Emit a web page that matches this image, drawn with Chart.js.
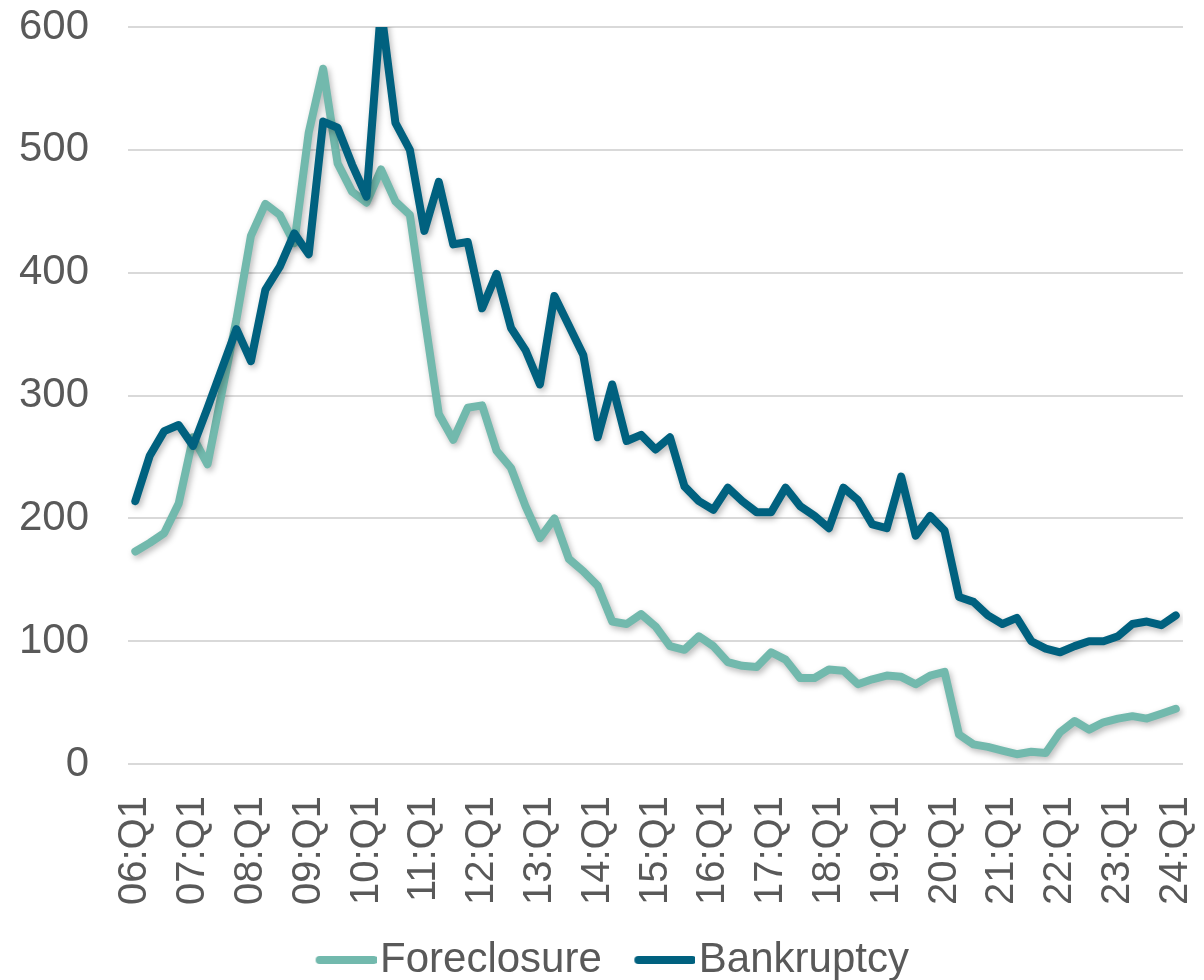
<!DOCTYPE html>
<html>
<head>
<meta charset="utf-8">
<script src="https://cdn.jsdelivr.net/npm/chart.js@4/dist/chart.umd.min.js"></script>
<style>
  html, body { margin: 0; padding: 0; background: #ffffff; }
  #wrap { width: 1204px; height: 980px; position: relative; }
</style>
</head>
<body>
<div id="wrap"><canvas id="chart"></canvas></div>
<script>
// tick labels shown on the x axis (every 4th quarter)
const tickLabels = ['06:Q1', '07:Q1', '08:Q1', '09:Q1', '10:Q1', '11:Q1', '12:Q1', '13:Q1', '14:Q1', '15:Q1',
    '16:Q1', '17:Q1', '18:Q1', '19:Q1', '20:Q1', '21:Q1', '22:Q1', '23:Q1', '24:Q1'];

// quarterly categories 06:Q1 .. 24:Q1
const quarters = [];
tickLabels.forEach((t, k) => {
    const yy = t.slice(0, 2);
    const last = k === tickLabels.length - 1 ? 1 : 4;
    for (let q = 1; q <= last; q++) quarters.push(yy + ':Q' + q);
});

const foreclosure = [173, 180, 188, 212, 266, 244, 303, 362, 430, 456, 447, 424, 514, 566, 489, 466, 457, 484, 458, 447,
    365, 285, 264, 290, 292, 255, 241, 210, 184, 200, 167, 157, 145, 116, 114, 122, 112, 96, 93, 104,
    96, 83, 80, 79, 91, 85, 70, 70, 77, 76, 65, 69, 72, 71, 65, 72, 75, 24, 16, 14,
    11, 8, 10, 9, 26, 35, 28, 34, 37, 39, 37, 41, 45];

const bankruptcy = [214, 251, 271, 276, 259, 290, 322, 354, 328, 386, 405, 432, 415, 523, 518, 488, 462, 615, 522, 500,
    434, 474, 423, 425, 371, 399, 355, 337, 309, 381, 357, 333, 266, 309, 263, 268, 256, 266, 226, 214,
    207, 225, 214, 205, 205, 225, 210, 202, 192, 225, 215, 195, 192, 234, 186, 202, 190, 136, 132, 121,
    114, 119, 100, 94, 91, 96, 100, 100, 104, 114, 116, 113, 121];

const tealColor = '#72b9ad';
const darkColor = '#00617f';
const textColor = '#595959';

// legend line sample drawn into a small canvas so it sits close to the text
function legendLine(color) {
    const c = document.createElement('canvas');
    c.width = 101;
    c.height = 12;
    const g = c.getContext('2d');
    g.strokeStyle = color;
    g.lineWidth = 8;
    g.lineCap = 'round';
    g.beginPath();
    g.moveTo(44, 6);
    g.lineTo(98, 6);
    g.stroke();
    return c;
}

// soft drop shadow under the lines
const lineShadow = {
    id: 'lineShadow',
    beforeDatasetDraw(chart) {
        const ctx = chart.ctx;
        ctx.save();
        ctx.shadowColor = 'rgba(0, 0, 0, 0.28)';
        ctx.shadowBlur = 6;
        ctx.shadowOffsetX = 2;
        ctx.shadowOffsetY = 3;
    },
    afterDatasetDraw(chart) {
        chart.ctx.restore();
    }
};

// drop the extra edge padding Chart.js reserves for tick labels
function noEdgePadding(scale) {
    scale.paddingLeft = 0;
    scale.paddingRight = 0;
    scale.paddingTop = 0;
    scale.paddingBottom = 0;
}

new Chart(document.getElementById('chart'), {
    type: 'line',
    data: {
        labels: quarters,
        datasets: [{
            label: 'Foreclosure',
            data: foreclosure,
            borderColor: tealColor,
            backgroundColor: tealColor,
            borderWidth: 8,
            borderCapStyle: 'round',
            borderJoinStyle: 'round',
            pointRadius: 0,
            pointStyle: legendLine(tealColor),
            tension: 0,
            order: 1
        }, {
            label: 'Bankruptcy',
            data: bankruptcy,
            borderColor: darkColor,
            backgroundColor: darkColor,
            borderWidth: 8,
            borderCapStyle: 'round',
            borderJoinStyle: 'round',
            pointRadius: 0,
            pointStyle: legendLine(darkColor),
            tension: 0,
            clip: 0,
            order: 0
        }]
    },
    options: {
        responsive: true,
        maintainAspectRatio: false,
        animation: false,
        layout: {
            padding: { left: 19, right: 21, top: 27, bottom: -11 }
        },
        scales: {
            x: {
                offset: true,
                grid: { display: false },
                border: { display: false },
                afterFit: noEdgePadding,
                ticks: {
                    autoSkip: false,
                    maxRotation: 90,
                    minRotation: 90,
                    padding: 24,
                    color: textColor,
                    font: { family: 'Liberation Sans', size: 40 },
                    callback: (value, i) => (i % 4 === 0 ? tickLabels[i / 4] : '')
                }
            },
            y: {
                min: 0,
                max: 600,
                border: { display: false },
                grid: { color: '#d9d9d9', lineWidth: 2, drawTicks: false },
                afterFit: (scale) => {
                    noEdgePadding(scale);
                    // tick padding is counted on both sides of the labels; keep only one
                    scale.width -= scale.options.ticks.padding;
                },
                ticks: {
                    stepSize: 100,
                    padding: 39,
                    color: textColor,
                    font: { family: 'Liberation Sans', size: 42 }
                }
            }
        },
        plugins: {
            legend: {
                position: 'bottom',
                labels: {
                    usePointStyle: true,
                    pointStyleWidth: 66,
                    padding: 10,
                    color: textColor,
                    font: { family: 'Liberation Sans', size: 42 },
                    sort: (a, b) => a.datasetIndex - b.datasetIndex
                }
            },
            tooltip: { enabled: false }
        }
    },
    plugins: [lineShadow]
});
</script>
</body>
</html>
